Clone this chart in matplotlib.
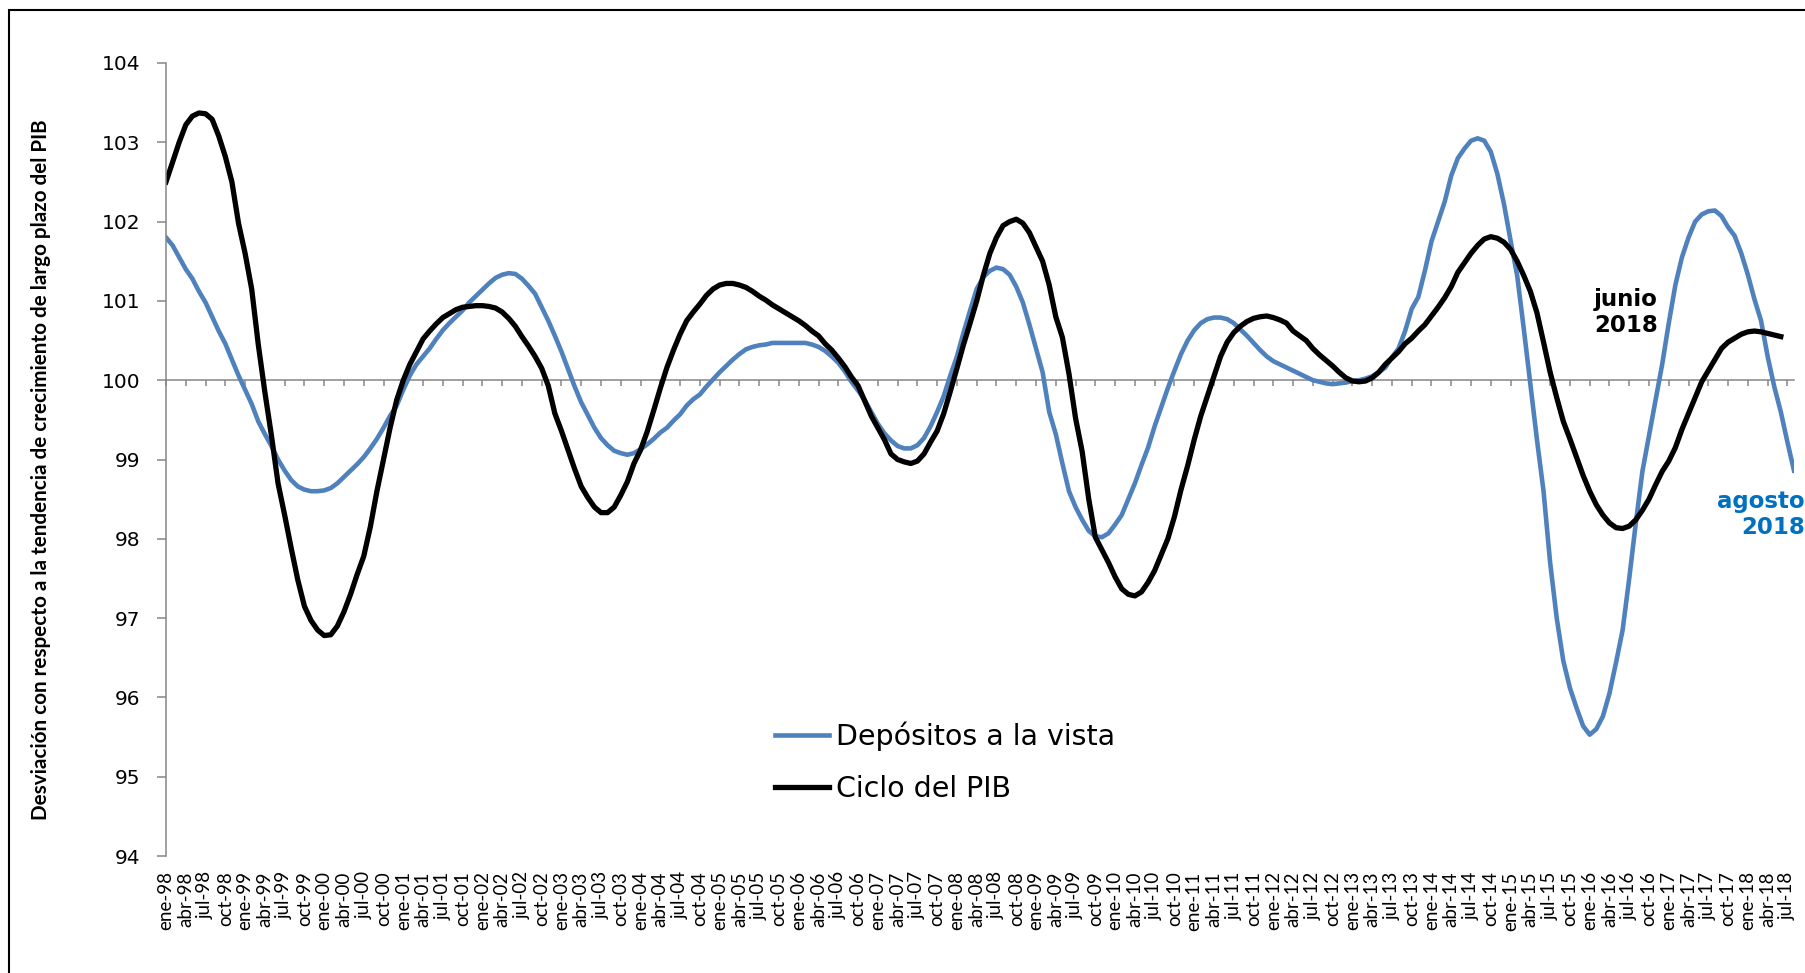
import matplotlib.pyplot as plt
from matplotlib.patches import Rectangle

# Etiquetas del eje x (trimestrales, ene-98 ... jul-18)
meses = ['ene', 'abr', 'jul', 'oct']
anios = ['98', '99', '00', '01', '02', '03', '04', '05', '06', '07', '08',
         '09', '10', '11', '12', '13', '14', '15', '16', '17', '18']
etiquetas_x = [f'{m}-{a}' for a in anios for m in meses][:83]

# Depósitos a la vista (mensual, ene-98 ... ago-18)
depositos = [
    101.80, 101.70, 101.55, 101.40, 101.28, 101.12, 100.98, 100.80, 100.62, 100.46,
    100.26, 100.06, 99.88, 99.70, 99.48, 99.32, 99.17, 99.00, 98.86, 98.74,
    98.66, 98.62, 98.60, 98.60, 98.61, 98.64, 98.70, 98.78, 98.86, 98.94,
    99.03, 99.14, 99.26, 99.40, 99.55, 99.68, 99.88, 100.06, 100.20, 100.30,
    100.40, 100.52, 100.63, 100.72, 100.80, 100.88, 100.98, 101.06, 101.14, 101.22,
    101.29, 101.33, 101.35, 101.34, 101.28, 101.19, 101.09, 100.92, 100.75, 100.56,
    100.36, 100.14, 99.92, 99.72, 99.56, 99.40, 99.27, 99.18, 99.11, 99.08,
    99.06, 99.08, 99.13, 99.19, 99.26, 99.34, 99.40, 99.49, 99.57, 99.68,
    99.76, 99.82, 99.92, 100.01, 100.10, 100.18, 100.26, 100.33, 100.39, 100.42,
    100.44, 100.45, 100.47, 100.47, 100.47, 100.47, 100.47, 100.47, 100.45, 100.42,
    100.37, 100.30, 100.22, 100.11, 99.98, 99.87, 99.75, 99.60, 99.45, 99.33,
    99.24, 99.17, 99.14, 99.14, 99.18, 99.27, 99.42, 99.60, 99.80, 100.06,
    100.30, 100.60, 100.88, 101.15, 101.30, 101.38, 101.42, 101.40, 101.33, 101.18,
    100.98, 100.70, 100.40, 100.10, 99.60, 99.32, 98.95, 98.60, 98.40, 98.24,
    98.10, 98.03, 98.02, 98.07, 98.18, 98.30, 98.50, 98.70, 98.93, 99.15,
    99.42, 99.66, 99.90, 100.12, 100.33, 100.50, 100.63, 100.72, 100.77, 100.79,
    100.79, 100.77, 100.72, 100.64, 100.56, 100.47, 100.38, 100.30, 100.24, 100.20,
    100.16, 100.12, 100.08, 100.04, 100.00, 99.98, 99.96, 99.95, 99.96, 99.97,
    99.99, 100.00, 100.02, 100.05, 100.10, 100.16, 100.29, 100.40, 100.62, 100.90,
    101.05, 101.38, 101.75, 102.00, 102.25, 102.58, 102.80, 102.92, 103.02, 103.05,
    103.02, 102.88, 102.60, 102.22, 101.76, 101.32, 100.65, 99.95, 99.25, 98.60,
    97.70, 97.00, 96.46, 96.12, 95.87, 95.64, 95.53, 95.60, 95.76, 96.05,
    96.44, 96.85, 97.50, 98.20, 98.85, 99.30, 99.75, 100.20, 100.72, 101.20,
    101.55, 101.80, 102.00, 102.09, 102.13, 102.14, 102.07, 101.93, 101.82, 101.60,
    101.33, 101.02, 100.75, 100.30, 99.92, 99.60, 99.22, 98.86,
]

# Ciclo del PIB (mensual, ene-98 ... jun-18)
ciclo_pib = [
    102.50, 102.75, 103.00, 103.22, 103.33, 103.37, 103.36, 103.29, 103.08, 102.82,
    102.50, 101.98, 101.60, 101.15, 100.45, 99.85, 99.30, 98.70, 98.30, 97.88,
    97.48, 97.15, 96.97, 96.85, 96.78, 96.79, 96.90, 97.08, 97.30, 97.55,
    97.78, 98.15, 98.60, 99.00, 99.40, 99.75, 100.00, 100.20, 100.36, 100.52,
    100.62, 100.71, 100.79, 100.84, 100.89, 100.92, 100.93, 100.94, 100.94, 100.93,
    100.91, 100.86, 100.78, 100.68, 100.55, 100.43, 100.30, 100.15, 99.93, 99.58,
    99.36, 99.12, 98.88, 98.66, 98.52, 98.40, 98.33, 98.33, 98.40, 98.55,
    98.72, 98.95, 99.12, 99.35, 99.62, 99.90, 100.16, 100.38, 100.58, 100.75,
    100.86, 100.96, 101.07, 101.15, 101.20, 101.22, 101.22, 101.20, 101.17, 101.12,
    101.06, 101.01, 100.95, 100.90, 100.85, 100.80, 100.75, 100.69, 100.62, 100.56,
    100.46, 100.38, 100.28, 100.17, 100.04, 99.93, 99.74, 99.55, 99.40, 99.25,
    99.07, 99.00, 98.97, 98.95, 98.98, 99.07, 99.22, 99.36, 99.58, 99.86,
    100.15, 100.45, 100.72, 101.00, 101.32, 101.60, 101.80, 101.95, 102.00, 102.03,
    101.98, 101.86, 101.68, 101.50, 101.20, 100.80, 100.54, 100.08, 99.52, 99.10,
    98.50, 98.02, 97.86, 97.70, 97.52, 97.37, 97.30, 97.28, 97.33, 97.45,
    97.60, 97.80, 98.00, 98.28, 98.62, 98.92, 99.25, 99.55, 99.80, 100.05,
    100.30, 100.48, 100.60, 100.68, 100.74, 100.78, 100.80, 100.81, 100.79, 100.76,
    100.72, 100.62, 100.56, 100.50, 100.40, 100.32, 100.25, 100.18, 100.10, 100.03,
    99.99, 99.98, 99.99, 100.03, 100.10, 100.20, 100.28, 100.36, 100.46, 100.53,
    100.62, 100.70, 100.81, 100.92, 101.04, 101.18, 101.36, 101.48, 101.60, 101.70,
    101.78, 101.81, 101.79, 101.74, 101.65, 101.50, 101.32, 101.12, 100.85, 100.48,
    100.10, 99.78, 99.48, 99.26, 99.03, 98.80, 98.60, 98.43, 98.30, 98.20,
    98.14, 98.13, 98.16, 98.24, 98.36, 98.50, 98.68, 98.85, 98.98, 99.15,
    99.38, 99.58, 99.78, 99.98, 100.12, 100.26, 100.40, 100.48, 100.53, 100.58,
    100.61, 100.62, 100.61, 100.59, 100.57, 100.55,
]

gris = '#868686'
azul = '#4F81BD'
fuente_estrecha = ['Lato', 'DejaVu Sans']

fig = plt.figure(figsize=(18.05, 9.73), dpi=100)
ax = fig.add_axes([166 / 1805, 1 - 856 / 973, 1628 / 1805, 793 / 973])

ax.plot(range(len(depositos)), depositos, color=azul, lw=3.3,
        solid_joinstyle='round', label='Depósitos a la vista')
ax.plot(range(len(ciclo_pib)), ciclo_pib, color='black', lw=3.8,
        solid_joinstyle='round', label='Ciclo del PIB')

ymin, ymax = 94, 104
ax.set_xlim(0, len(depositos) - 1)
ax.set_ylim(ymin, ymax)
ax.set_yticks(range(ymin, ymax + 1))

for s in ['top', 'right', 'bottom']:
    ax.spines[s].set_visible(False)
ax.spines['left'].set_color(gris)
ax.spines['left'].set_linewidth(1.1)
ax.tick_params(axis='y', direction='out', length=6.5, width=1.1, color=gris,
               pad=12, labelsize=14.5)

ax.set_xticks(range(0, len(depositos), 3))
ax.set_xticklabels(etiquetas_x, rotation=90, fontsize=13.5, family=fuente_estrecha)
ax.tick_params(axis='x', length=0, pad=11)

# eje horizontal cruzando en 100 con marcas trimestrales
eje100 = ax.secondary_xaxis((100 - ymin) / (ymax - ymin))
eje100.set_alignment('bottom')
eje100.spines['bottom'].set_color(gris)
eje100.spines['bottom'].set_linewidth(1.1)
eje100.set_xticks(range(0, len(depositos), 3))
eje100.tick_params(axis='x', direction='out', length=4, width=1.1, color=gris,
                   labelbottom=False, labeltop=False)

ax.legend(loc='center left', bbox_to_anchor=(0.374, 0.1185), frameon=False,
          fontsize=20.5, handlelength=1.9, handletextpad=0.25, labelspacing=0.85,
          borderpad=0, borderaxespad=0)

ax.text(226.3, 100.85, 'junio\n2018', ha='right', va='center', fontsize=16.5,
        fontweight='bold', color='black', linespacing=1.15)
ax.text(248.6, 98.31, 'agosto\n2018', ha='right', va='center', fontsize=16.5,
        fontweight='bold', color='#0070C0', linespacing=1.15, clip_on=False)

fig.text(41 / 1805, 1 - 470 / 973,
         'Desviación con respecto a la tendencia de crecimiento de largo plazo del PIB',
         rotation=90, ha='center', va='center', fontsize=14.9, fontweight='bold',
         family=fuente_estrecha)

# marco del área del gráfico
fig.add_artist(Rectangle((9 / 1805, -0.05), 1.2, 1 - 10 / 973 + 0.05,
                         transform=fig.transFigure, fill=False,
                         edgecolor='black', lw=1.5))

fig.savefig('out.png', dpi=100)
